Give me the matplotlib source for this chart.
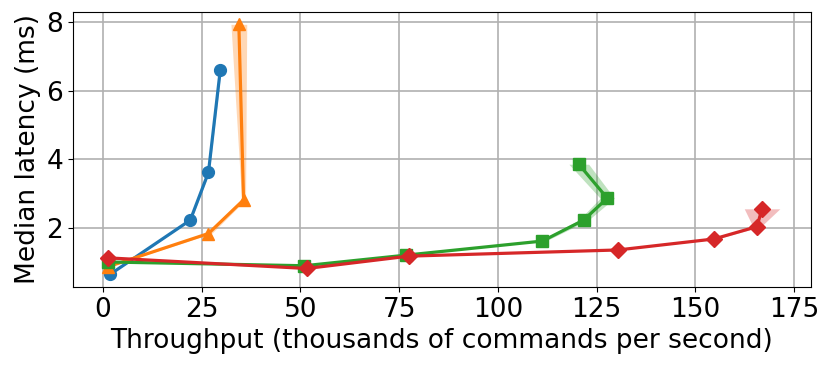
import matplotlib
matplotlib.use("Agg")
import matplotlib.pyplot as plt
import numpy as np

# throughput (k cmd/s), median latency (ms), throughput spread for the shaded band
blue_x = [1.8, 22.1, 26.7, 29.7]
blue_y = [0.65, 2.23, 3.62, 6.61]
blue_err = [0.2, 0.2, 0.2, 0.2]

orange_x = [1.2, 26.7, 35.6, 34.4]
orange_y = [0.87, 1.84, 2.82, 7.94]
orange_err = [0.3, 0.8, 0.5, 2.0]

green_x = [1.2, 51.0, 76.8, 111.3, 121.7, 127.7, 120.5]
green_y = [1.01, 0.90, 1.21, 1.62, 2.23, 2.87, 3.86]
green_err = [0.3, 0.4, 0.5, 0.8, 1.2, 1.8, 2.5]

red_x = [1.2, 51.6, 77.4, 130.4, 154.7, 165.6, 166.9]
red_y = [1.13, 0.82, 1.18, 1.36, 1.68, 2.04, 2.56]
red_err = [0.3, 0.4, 0.4, 0.5, 0.8, 1.0, 4.5]

SERIES = [
    (blue_x, blue_y, blue_err, "#1f77b4", "o"),
    (orange_x, orange_y, orange_err, "#ff7f0e", "^"),
    (green_x, green_y, green_err, "#2ca02c", "s"),
    (red_x, red_y, red_err, "#d62728", "D"),
]

plt.rcParams.update({"font.family": "DejaVu Sans", "font.size": 19})

fig = plt.figure(figsize=(8.31, 3.69), dpi=100)
ax = fig.add_axes([73 / 831, 1 - 287 / 369, (811 - 73) / 831, (287 - 12) / 369])

for xs, ys, errs, color, marker in SERIES:
    xs = np.array(xs)
    errs = np.array(errs)
    ax.fill_betweenx(ys, xs - errs, xs + errs, color=color, alpha=0.3, linewidth=0)
    ax.plot(xs, ys, color=color, marker=marker, linewidth=2.3, markersize=8.5)

ax.set_xlim(-7.6, 179.3)
ax.set_ylim(0.28, 8.3)
ax.set_xticks([0, 25, 50, 75, 100, 125, 150, 175])
ax.set_yticks([2, 4, 6, 8])
ax.grid(True, color="#b0b0b0", linewidth=1.2)
ax.set_axisbelow(True)
ax.set_xlabel("Throughput (thousands of commands per second)")
ax.set_ylabel("Median latency (ms)")

fig.savefig("out.png", dpi=100)
